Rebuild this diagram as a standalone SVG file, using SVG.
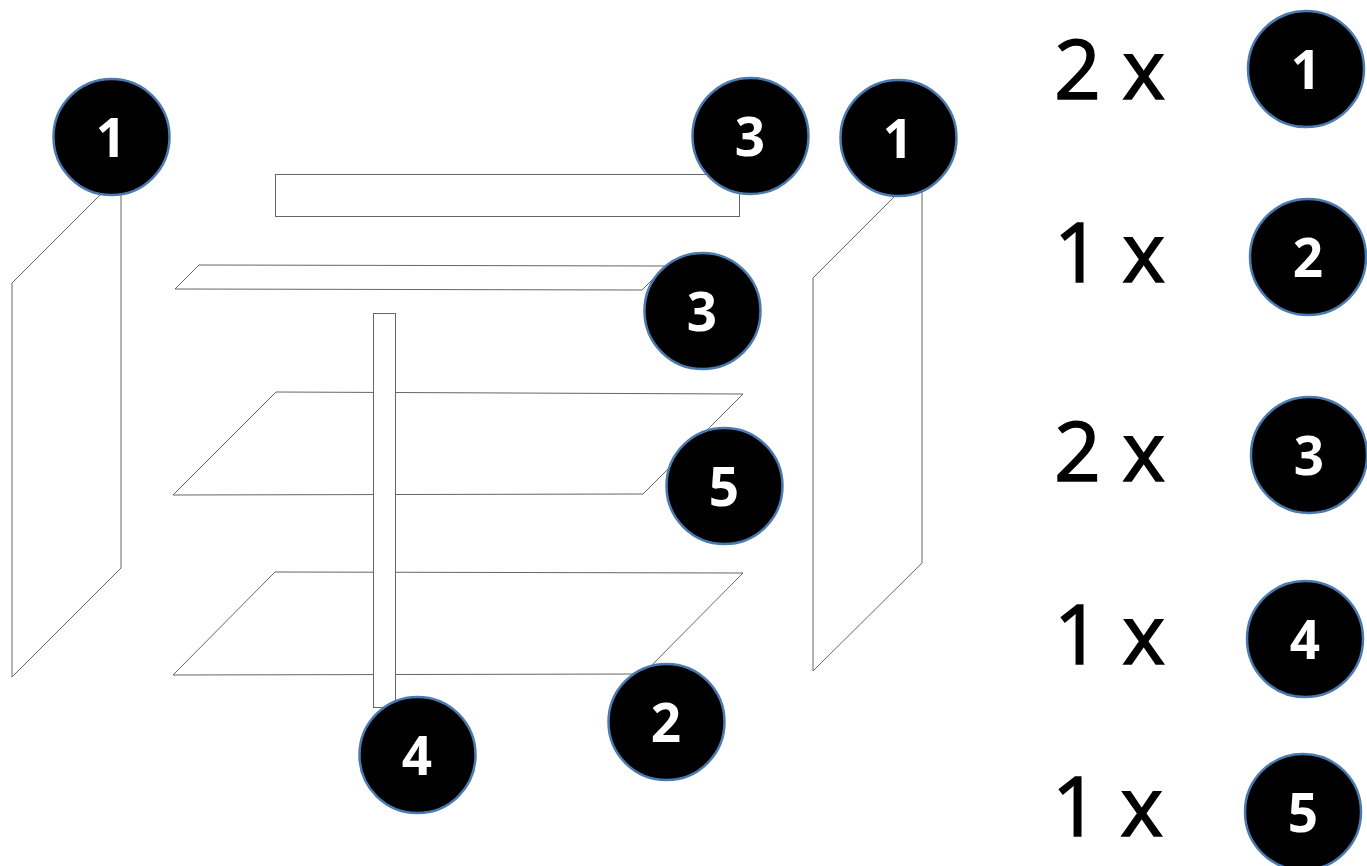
<svg xmlns="http://www.w3.org/2000/svg" width="1367" height="866" viewBox="0 0 1367 866">
<style>
.s{fill:#fff;stroke:#666;stroke-width:1}
.d{fill:#000;stroke:#4a7ab0;stroke-width:2.500}
.n{font-family:"Open Sans","Noto Sans",sans-serif;font-weight:700;font-size:53px;fill:#fff;text-anchor:middle}
.q{font-family:"Open Sans","Noto Sans",sans-serif;font-size:82px;fill:#000;stroke:#000;stroke-width:1.500}
</style>
<rect width="1367" height="866" fill="#fff"/>
<g id="shapes">
<polygon class="s" points="121,174 121,568 12,677 12,283"/>
<polygon class="s" points="922,169 922,563 813,671 813,278"/>
<rect class="s" x="275.500" y="174.500" width="464" height="42"/>
<polygon class="s" points="199,265 666,266 642,290 175,289"/>
<polygon class="s" points="276,392 743,394 643,494 173,495"/>
<polygon class="s" points="275,572 743,573 643,674 173,675"/>
<rect class="s" x="373.500" y="313.500" width="22" height="394"/>
</g>
<g id="node-1a"><circle class="d" cx="111.500" cy="137" r="58"/><text class="n" x="111" y="157">1</text></g>
<g id="node-3a"><circle class="d" cx="750.500" cy="136" r="58"/><text class="n" x="750" y="156">3</text></g>
<g id="node-1b"><circle class="d" cx="898.500" cy="138" r="58"/><text class="n" x="898" y="158">1</text></g>
<g id="node-3b"><circle class="d" cx="702.500" cy="311" r="58"/><text class="n" x="702" y="331">3</text></g>
<g id="node-5a"><circle class="d" cx="724.500" cy="486" r="58"/><text class="n" x="724" y="506">5</text></g>
<g id="node-2a"><circle class="d" cx="666.500" cy="722" r="58"/><text class="n" x="666" y="742">2</text></g>
<g id="node-4a"><circle class="d" cx="417.500" cy="755" r="58"/><text class="n" x="417" y="775">4</text></g>
<g id="legend-1"><text class="q" x="1054" y="99">2 x</text><circle class="d" cx="1306" cy="69" r="58"/><text class="n" x="1306" y="89">1</text></g>
<g id="legend-2"><text class="q" x="1054" y="282">1 x</text><circle class="d" cx="1308" cy="257" r="58"/><text class="n" x="1308" y="277">2</text></g>
<g id="legend-3"><text class="q" x="1054" y="481">2 x</text><circle class="d" cx="1309" cy="455" r="58"/><text class="n" x="1309" y="475">3</text></g>
<g id="legend-4"><text class="q" x="1054" y="664">1 x</text><circle class="d" cx="1305" cy="639" r="58"/><text class="n" x="1305" y="659">4</text></g>
<g id="legend-5"><text class="q" x="1052" y="836">1 x</text><circle class="d" cx="1303" cy="812" r="58"/><text class="n" x="1303" y="832">5</text></g>
</svg>
